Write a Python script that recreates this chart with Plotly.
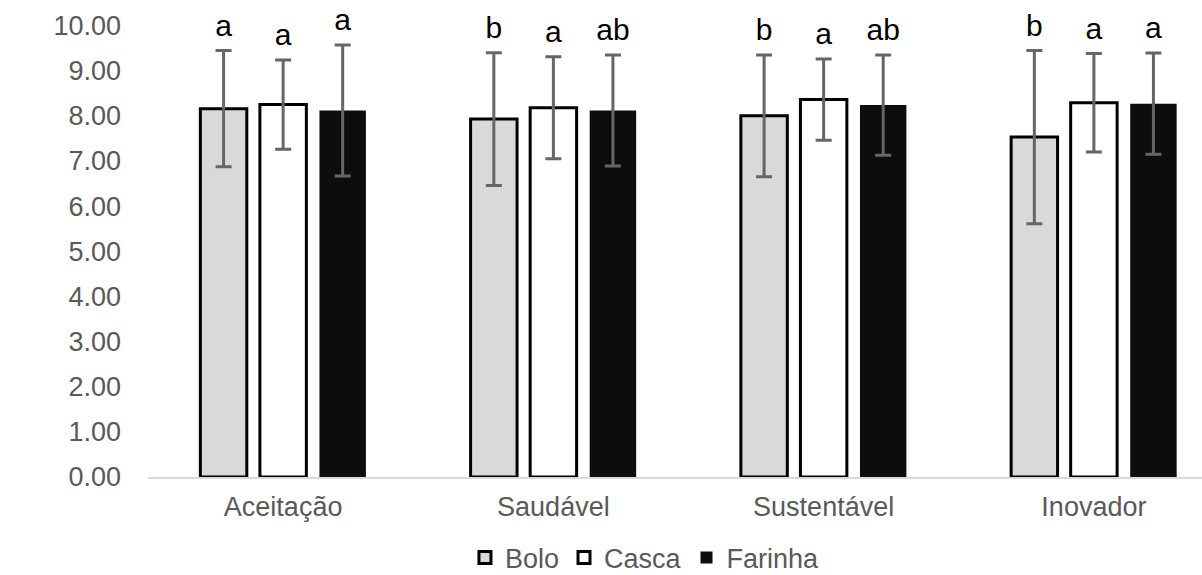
import plotly.graph_objects as go

categories = ["Aceitação", "Saudável", "Sustentável", "Inovador"]
series_names = ["Bolo", "Casca", "Farinha"]
bolo_mean = [8.16, 7.93, 8.00, 7.53]
bolo_sd = [1.29, 1.47, 1.35, 1.92]
casca_mean = [8.25, 8.18, 8.36, 8.29]
casca_sd = [0.99, 1.13, 0.90, 1.09]
farinha_mean = [8.12, 8.12, 8.24, 8.27]
farinha_sd = [1.45, 1.23, 1.11, 1.12]
bolo_letters = ["a", "b", "b", "b"]
casca_letters = ["a", "a", "a", "a"]
farinha_letters = ["a", "ab", "ab", "a"]
y_ticks = [0, 1, 2, 3, 4, 5, 6, 7, 8, 9, 10]

means = [bolo_mean, casca_mean, farinha_mean]
sds = [bolo_sd, casca_sd, farinha_sd]
letters = [bolo_letters, casca_letters, farinha_letters]
fills = ["#d9d9d9", "#ffffff", "#0d0d0d"]
lines = ["#000000", "#000000", "#0d0d0d"]
lw = [3, 3, 0]

FONT = "Liberation Sans, Arial, sans-serif"
fig = go.Figure()
for i, name in enumerate(series_names):
    fig.add_trace(go.Bar(
        name=name, x=categories, y=means[i], offsetgroup=str(i),
        marker=dict(color=fills[i], line=dict(color=lines[i], width=lw[i])),
        error_y=dict(type="data", array=sds[i], visible=True,
                     color="#666666", thickness=3, width=8),
    ))
for i, name in enumerate(series_names):
    fig.add_trace(go.Scatter(
        x=categories, y=[m + s for m, s in zip(means[i], sds[i])],
        text=letters[i], mode="markers+text", textposition="top center",
        marker=dict(size=10, color="rgba(0,0,0,0)"),
        offsetgroup=str(i), showlegend=False, hoverinfo="skip",
        textfont=dict(size=30, color="#000000", family=FONT),
        cliponaxis=False,
    ))

fig.update_layout(
    width=1202, height=575,
    margin=dict(l=148, r=0, t=3, b=98, autoexpand=False),
    paper_bgcolor="white", plot_bgcolor="white",
    barmode="group", bargap=0.339, bargroupgap=0.22,
    scattermode="group", scattergap=0.339,
    font=dict(family=FONT, size=27, color="#595959"),
    legend=dict(orientation="h", x=0.4715, xanchor="center", y=-0.171,
                yanchor="middle", font=dict(size=27, color="#595959"),
                itemwidth=30, traceorder="normal"),
    xaxis=dict(type="category", range=[-0.5, 3.4], showline=True,
               linecolor="#d9d9d9", linewidth=2, ticks="", showgrid=False,
               automargin=False,
               tickfont=dict(size=27, color="#595959"), ticklabelstandoff=5),
    yaxis=dict(range=[0, 10.5], tickvals=y_ticks, tickformat=".2f",
               showgrid=False, zeroline=False, showline=False, ticks="",
               automargin=False,
               tickfont=dict(size=27, color="#595959"), ticklabelstandoff=26),
)
fig.write_html(
    "out.html",
    config={"displayModeBar": False},
    post_script="document.body.style.margin='0';document.body.style.overflow='hidden';",
)
